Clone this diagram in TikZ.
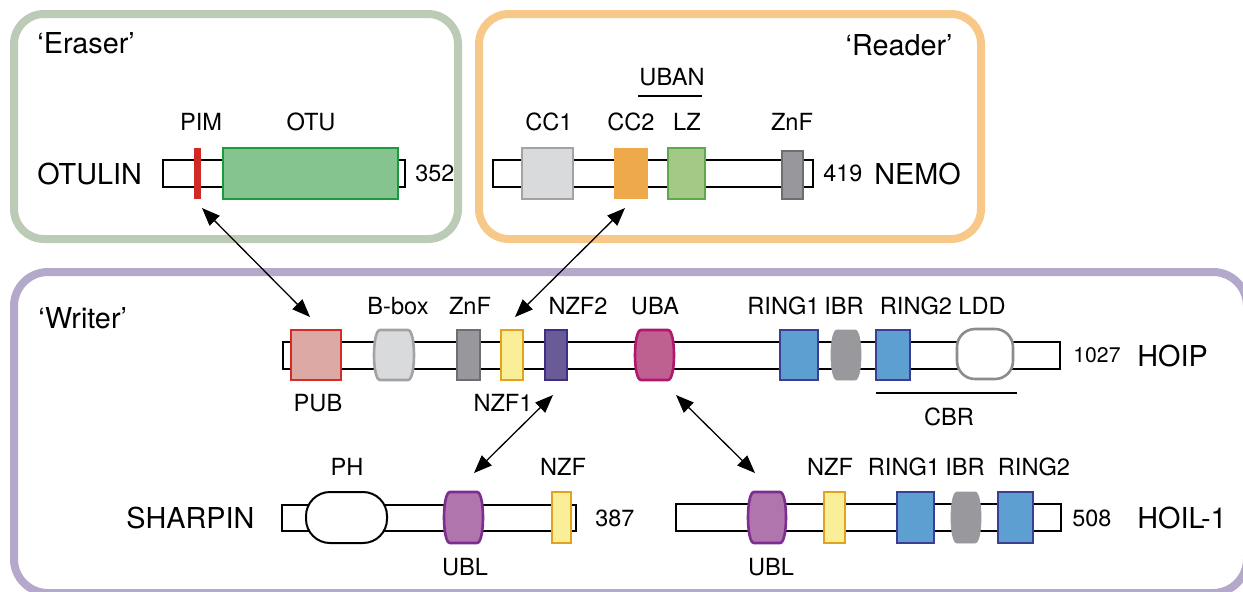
\documentclass[tikz,border=0pt]{standalone}
\usepackage{fontspec}
\setmainfont{TeX Gyre Heros}
\usetikzlibrary{arrows.meta}
\definecolor{eraserc}{HTML}{BCCBB5}
\definecolor{readerc}{HTML}{F8C888}
\definecolor{writerc}{HTML}{B4A9CA}
\definecolor{pubf}{HTML}{DCA9A5}\definecolor{pubd}{HTML}{D32B27}
\definecolor{lgf}{HTML}{D9DADC}\definecolor{lgd}{HTML}{A3A3A5}
\definecolor{znf}{HTML}{98989C}\definecolor{znd}{HTML}{6E6E72}
\definecolor{yelf}{HTML}{F9EF99}\definecolor{yeld}{HTML}{E3A21A}
\definecolor{nzf}{HTML}{6A5B97}\definecolor{nzd}{HTML}{3C2F85}
\definecolor{ubaf}{HTML}{BE6090}\definecolor{ubad}{HTML}{B3176D}
\definecolor{ringf}{HTML}{5E9FD2}\definecolor{ringd}{HTML}{3B3E92}
\definecolor{ibrf}{HTML}{99999D}
\definecolor{lddd}{HTML}{8C8C8C}
\definecolor{ublf}{HTML}{B075AD}\definecolor{ubld}{HTML}{7D2C90}
\definecolor{otuf}{HTML}{86C48F}\definecolor{otud}{HTML}{1B9A3E}
\definecolor{pimc}{HTML}{CF2A26}
\definecolor{cc2f}{HTML}{EEA94B}
\definecolor{lzf}{HTML}{A4C986}\definecolor{lzd}{HTML}{5DAA4E}
\tikzset{
 lab/.style={inner sep=0pt, font=\fontsize{11.8}{14}\selectfont},
 big/.style={inner sep=0pt, font=\fontsize{14.4}{17}\selectfont},
 num/.style={inner sep=0pt, font=\fontsize{11.7}{14}\selectfont},
 bb/.style={draw=black, fill=white, line width=0.6pt, inner sep=0pt},
 sz/.style 2 args={minimum width=#1*0.5pt, minimum height=#2*0.5pt, inner sep=0pt},
 dom/.style={line width=1.3pt},
 panel/.style={line width=4pt, rounded corners=15pt},
 link/.style={line width=0.65pt, {Triangle[length=9pt,width=7pt]}-{Triangle[length=9pt,width=7pt]}},
}
% barrel domain: name, cx, cy, w, h, style
\newcommand\barreldom[6]{%
 \node[sz={#4}{#5}] (#1) at (#2,#3) {};
 \pgfmathsetmacro\bxl{#2-#4/2}\pgfmathsetmacro\bxr{#2+#4/2}%
 \pgfmathsetmacro\byt{#3-#5/2}\pgfmathsetmacro\byb{#3+#5/2}%
 \draw[#6] ({\bxl+6},\byt) -- ({\bxr-6},\byt) .. controls ({\bxr+2},\byt) and ({\bxr+2},\byb) .. ({\bxr-6},\byb) -- ({\bxl+6},\byb) .. controls ({\bxl-2},\byb) and ({\bxl-2},\byt) .. cycle;
}
\begin{document}
\begin{tikzpicture}[x=0.5pt,y=-0.5pt]
\useasboundingbox (0,0) rectangle (1243,591);
% panels
\draw[panel, draw=eraserc] (14,14) rectangle (458,239);
\draw[panel, draw=readerc] (479,14) rectangle (981,239);
\draw[panel, draw=writerc, rounded corners=17pt] (14,272) rectangle (1247,593);
\node[big, anchor=west] (eraser) at (37,43) {‘Eraser’};
\node[big, anchor=east] (reader) at (953,45) {‘Reader’};
\node[big, anchor=west] (writer) at (38,318) {‘Writer’};

% ---------- OTULIN ----------
\node[bb, sz={242}{27}] (otulin) at (284,173.5) {};
\node[fill=pimc, sz={7}{51}] (pim) at (197.5,173.5) {};
\node[dom, draw=otud, fill=otuf, sz={175}{51}] (otu) at (310.5,173.5) {};
\node[big, anchor=west] (otulinlab) at (37,173.5) {OTULIN};
\node[num, anchor=west] (otulinlen) at (415,173.5) {352};
\node[lab] (pimlab) at (201,122) {PIM};
\node[lab] (otulab) at (311,122) {OTU};

% ---------- NEMO ----------
\node[bb, sz={320}{27}] (nemo) at (653,173.5) {};
\node[dom, draw=lgd, fill=lgf, sz={51}{51}] (cc1) at (547.5,173.5) {};
\node[fill=cc2f, sz={34}{51}] (cc2) at (631,173.5) {};
\node[dom, draw=lzd, fill=lzf, sz={37}{51}] (lz) at (686.5,173.5) {};
\node[dom, draw=znd, fill=znf, sz={21}{48}] (nznf) at (792.5,175) {};
\node[lab] (cc1lab) at (549,122) {CC1};
\node[lab] (cc2lab) at (631,122) {CC2};
\node[lab] (lzlab) at (687,122) {LZ};
\node[lab] (nznflab) at (792,122) {ZnF};
\node[lab] (ubanlab) at (672,77) {UBAN};
\draw[line width=0.8pt] (638,96) -- (702,96);
\node[num, anchor=west] (nemolen) at (823,173.5) {419};
\node[big, anchor=west] (nemolab) at (874,173.5) {NEMO};

% ---------- HOIP ----------
\node[bb, sz={777}{27}] (hoip) at (671.5,355.5) {};
\node[dom, draw=pubd, fill=pubf, sz={50}{50}] (pub) at (316,355) {};
\barreldom{bbox}{394}{355}{40}{50}{dom, draw=lgd, fill=lgf}
\node[dom, draw=znd, fill=znf, sz={23}{50}] (hznf) at (468.5,355) {};
\node[dom, draw=yeld, fill=yelf, sz={22}{50}] (nzf1) at (512,355) {};
\node[dom, draw=nzd, fill=nzf, sz={22}{50}] (nzf2) at (556,355) {};
\barreldom{uba}{654.5}{355}{39}{50}{dom, draw=ubad, fill=ubaf}
\node[dom, draw=ringd, fill=ringf, sz={38}{50}] (hring1) at (799,355) {};
\barreldom{hibr}{846}{355}{30}{50}{draw=ibrf, fill=ibrf}
\node[dom, draw=ringd, fill=ringf, sz={34}{50}] (hring2) at (893,355) {};
\node[dom, draw=lddd, fill=white, rounded corners=9pt, sz={56}{50}] (ldd) at (985,354) {};
\node[lab] (bboxlab) at (398,306) {B-box};
\node[lab] (hznflab) at (470,306) {ZnF};
\node[lab] (nzf2lab) at (578,306) {NZF2};
\node[lab] (ubalab) at (655,306) {UBA};
\node[lab] (hring1lab) at (783.5,306) {RING1};
\node[lab] (hibrlab) at (844,306) {IBR};
\node[lab] (hring2lab) at (916,306) {RING2};
\node[lab] (lddlab) at (982,306) {LDD};
\node[lab] (publab) at (318,403) {PUB};
\node[lab] (nzf1lab) at (503,403) {NZF1};
\draw[line width=0.8pt] (876,393) -- (1017,393);
\node[lab] (cbrlab) at (949,417) {CBR};
\node[inner sep=0pt, font=\fontsize{10.6}{13}\selectfont, anchor=west] (hoiplen) at (1073,355.5) {1027};
\node[big, anchor=west] (hoiplab) at (1137,355.5) {HOIP};

% ---------- SHARPIN ----------
\node[bb, sz={294}{26}] (sharpin) at (429,518) {};
\node[draw=black, fill=white, line width=1pt, rounded corners=12pt, sz={81}{51}] (ph) at (346.5,517.5) {};
\barreldom{subl}{463.5}{517.5}{39}{51}{dom, draw=ubld, fill=ublf}
\node[dom, draw=yeld, fill=yelf, sz={19}{51}] (snzf) at (561.5,517.5) {};
\node[lab] (phlab) at (347,467) {PH};
\node[lab] (snzflab) at (563,467) {NZF};
\node[lab] (subllab) at (465,567) {UBL};
\node[big, anchor=west] (sharpinlab) at (126,518) {SHARPIN};
\node[num, anchor=west] (sharpinlen) at (595,518) {387};

% ---------- HOIL-1 ----------
\node[bb, sz={385}{27}] (hoil) at (868.5,517.5) {};
\barreldom{hubl}{767}{517.5}{38}{51}{dom, draw=ubld, fill=ublf}
\node[dom, draw=yeld, fill=yelf, sz={21}{51}] (hnzf) at (834.5,517.5) {};
\node[dom, draw=ringd, fill=ringf, sz={37}{51}] (lring1) at (915.5,517.5) {};
\barreldom{libr}{966}{517.5}{30}{51}{draw=ibrf, fill=ibrf}
\node[dom, draw=ringd, fill=ringf, sz={35}{51}] (lring2) at (1015.5,517.5) {};
\node[lab] (hnzflab) at (830,467) {NZF};
\node[lab] (lring1lab) at (904,467) {RING1};
\node[lab] (librlab) at (965,467) {IBR};
\node[lab] (lring2lab) at (1034,467) {RING2};
\node[lab] (hubllab) at (771,567) {UBL};
\node[num, anchor=west] (hoillen) at (1072,518) {508};
\node[big, anchor=west] (hoillab) at (1137,518) {HOIL-1};

% ---------- interaction arrows ----------
\coordinate (a1s) at (202,208); \coordinate (a1e) at (310,317);
\coordinate (a2s) at (625,208); \coordinate (a2e) at (515,317);
\coordinate (a3s) at (553,395); \coordinate (a3e) at (474,473);
\coordinate (a4s) at (676,395); \coordinate (a4e) at (755,473);
\draw[link] (a1s) -- (a1e);
\draw[link] (a2s) -- (a2e);
\draw[link] (a3s) -- (a3e);
\draw[link] (a4s) -- (a4e);
\end{tikzpicture}
\end{document}
